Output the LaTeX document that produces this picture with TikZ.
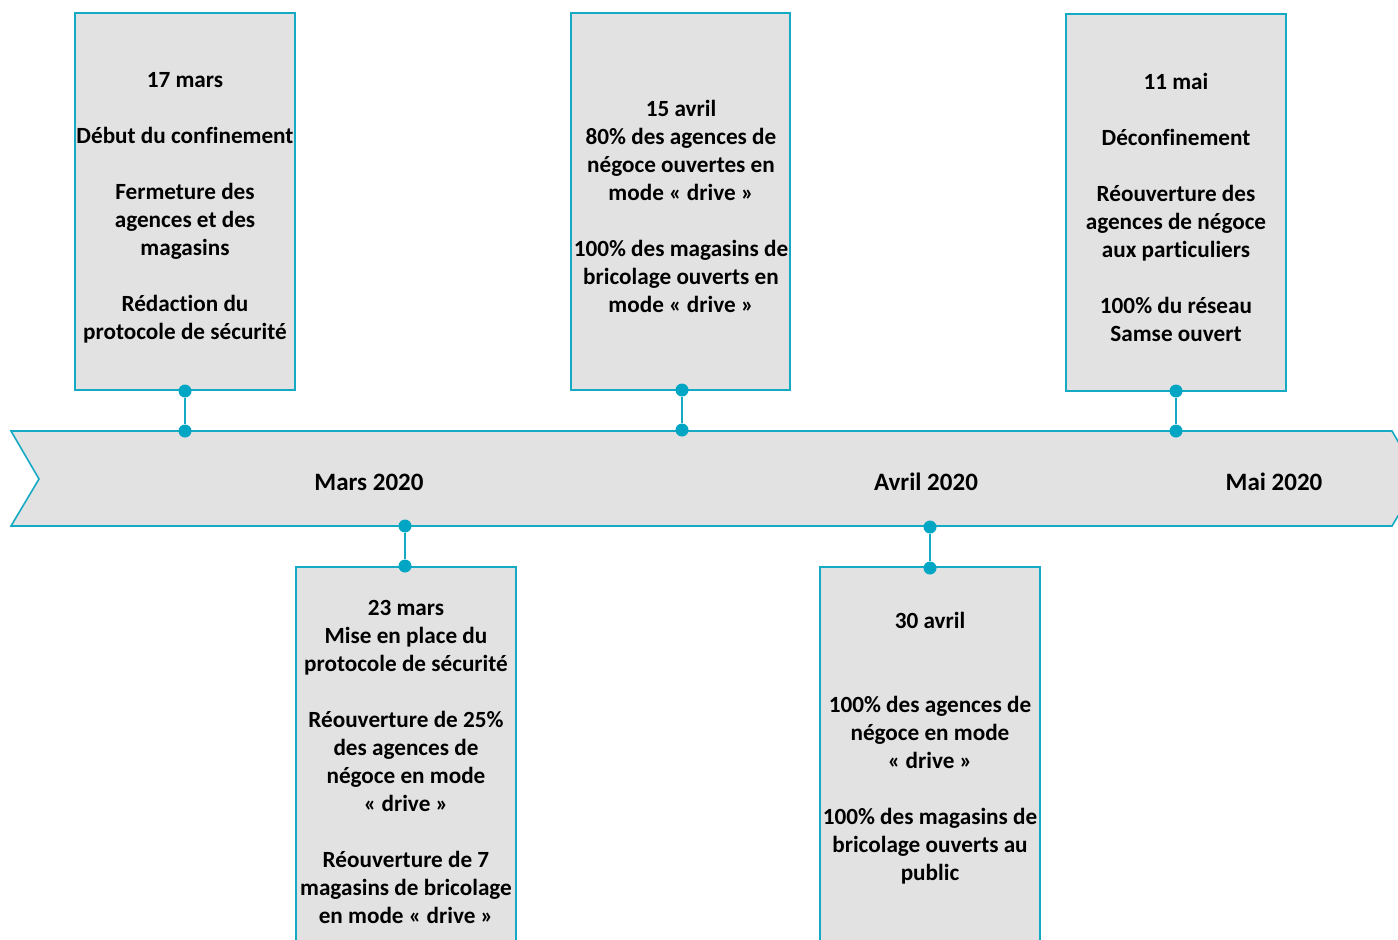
\documentclass[tikz,border=0pt]{standalone}
\usepackage{fontspec}
\setmainfont{Carlito}[Ligatures={NoCommon}]
\definecolor{teal1}{RGB}{20,170,196}
\definecolor{dotc}{RGB}{0,166,196}
\definecolor{fillg}{RGB}{226,226,226}
\begin{document}
\begin{tikzpicture}[x=1pt,y=-1pt,
  evbox/.style={draw=teal1,line width=1.6pt,fill=fillg},
  evtext/.style={align=center,inner sep=0pt,font=\fontsize{23.2}{28}\selectfont\bfseries,text=black},
  band/.style={draw=teal1,line width=1.6pt,fill=fillg},
  conn/.style={draw=teal1,line width=1.6pt},
  pin/.style={circle,fill=dotc,inner sep=0pt,minimum size=13pt},
  month/.style={font=\fontsize{25}{28}\selectfont\bfseries,text=black,inner sep=0pt}]
\useasboundingbox (0,0) rectangle (1398,940);
\clip (0,0) rectangle (1398,940);
% timeline band
\path[band] (11,431) -- (1392,431) -- (1420,479) -- (1392,526) -- (11,526) -- (39,479) -- cycle;
\node[month] (m1) at (369,482) {Mars 2020};
\node[month] (m2) at (926,482) {Avril 2020};
\node[month] (m3) at (1274,482) {Mai 2020};
% top boxes
\path[evbox] (75,13) rectangle (295,390);
\path[evbox] (571,13) rectangle (790,390);
\path[evbox] (1066,14) rectangle (1286,391);
% bottom boxes
\path[evbox] (296,567) rectangle (516,960);
\path[evbox] (820,567) rectangle (1040,960);
% texts
\node[evtext] (t1) at (185,207.5) {17 mars\\[28pt]Début du confinement\\[28pt]Fermeture des\\agences et des\\magasins\\[28pt]Rédaction du\\protocole de sécurité};
\node[evtext] (t2) at (681,206.5) {15 avril\\80\% des agences de\\négoce ouvertes en\\mode «~drive~»\\[28pt]100\% des magasins de\\bricolage ouverts en\\mode «~drive~»};
\node[evtext] (t3) at (1176,207.5) {11 mai\\[28pt]Déconfinement\\[28pt]Réouverture des\\agences de négoce\\aux particuliers\\[28pt]100\% du réseau\\Samse ouvert};
\node[evtext] (t4) at (406,761.5) {23 mars\\Mise en place du\\protocole de sécurité\\[28pt]Réouverture de 25\%\\des agences de\\négoce en mode\\«~drive~»\\[28pt]Réouverture de 7\\magasins de bricolage\\en mode «~drive~»};
\node[evtext] (t5) at (930,748.5) {30 avril\\[56pt]100\% des agences de\\négoce en mode\\«~drive~»\\[28pt]100\% des magasins de\\bricolage ouverts au\\public};
% pins and connectors
\node[pin] (a1) at (185,391) {};
\node[pin] (b1) at (185,431) {};
\node[pin] (a2) at (682,390) {};
\node[pin] (b2) at (682,430) {};
\node[pin] (a3) at (1176,391) {};
\node[pin] (b3) at (1176,431) {};
\node[pin] (a4) at (405,526) {};
\node[pin] (b4) at (405,566) {};
\node[pin] (a5) at (930,527) {};
\node[pin] (b5) at (930,568) {};
\draw[conn] (a1) -- (b1);
\draw[conn] (a2) -- (b2);
\draw[conn] (a3) -- (b3);
\draw[conn] (a4) -- (b4);
\draw[conn] (a5) -- (b5);
\end{tikzpicture}
\end{document}
